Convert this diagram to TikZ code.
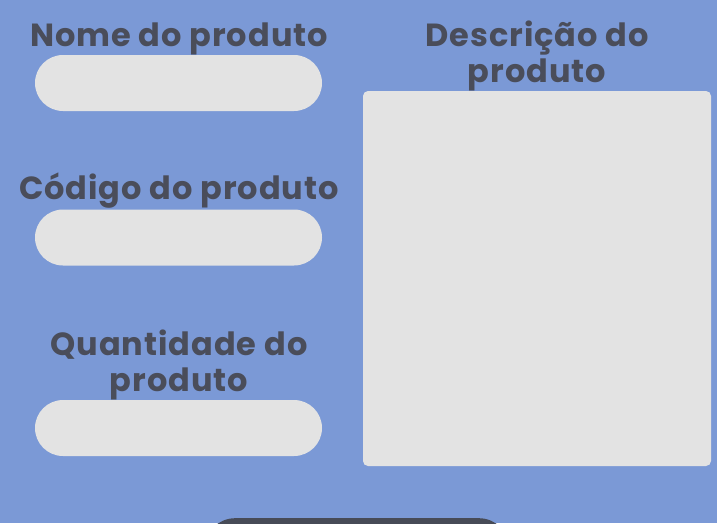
\documentclass[tikz,border=0pt]{standalone}
\usepackage{fontspec}
\setmainfont{Poppins}[LetterSpace=3]
\usepackage{tikz}
\usetikzlibrary{positioning}
\definecolor{pagebg}{HTML}{7B99D6}
\definecolor{labelgray}{HTML}{4A4D5A}
\definecolor{fieldgray}{HTML}{E3E3E3}
\definecolor{buttondark}{HTML}{474B57}
\tikzset{
  label text/.style = {anchor=base, text=labelgray, align=center, inner sep=0pt,
    font=\fontsize{32}{36}\selectfont\bfseries},
  input field/.style = {fill=fieldgray, rounded corners=28pt, minimum width=287pt,
    minimum height=56pt, inner sep=0pt},
}

\begin{document}
\begin{tikzpicture}[x=1pt, y=-1pt]
		\fill[pagebg] (0,0) rectangle (717,523);
		\useasboundingbox (0,0) rectangle (717,523);
		\clip (0,0) rectangle (717,523);
		% left column
		\node (nome) [label text] at (179,46) {Nome do produto};
		\node (fnome) [input field] at (178.5,83) {};
		\node (codigo) [label text] at (179,199) {Código do produto};
		\node (fcodigo) [input field] at (178.5,237.5) {};
		\node (qtd) [label text] at (179,391) {Quantidade do\\produto};
		\node (fqtd) [input field] at (178.5,428) {};
		% right column
		\node (desc) [label text] at (537,82) {Descrição do\\produto};
		\node (fdesc) [fill=fieldgray, rounded corners=5pt, minimum width=348pt,
		  minimum height=375pt, inner sep=0pt] at (537,278.5) {};
		% button (cut off)
		\node (enviar) [fill=buttondark, rounded corners=30pt, minimum width=304pt,
		  minimum height=60pt, inner sep=0pt, anchor=north] at (357,518) {};
\end{tikzpicture}
\end{document}
